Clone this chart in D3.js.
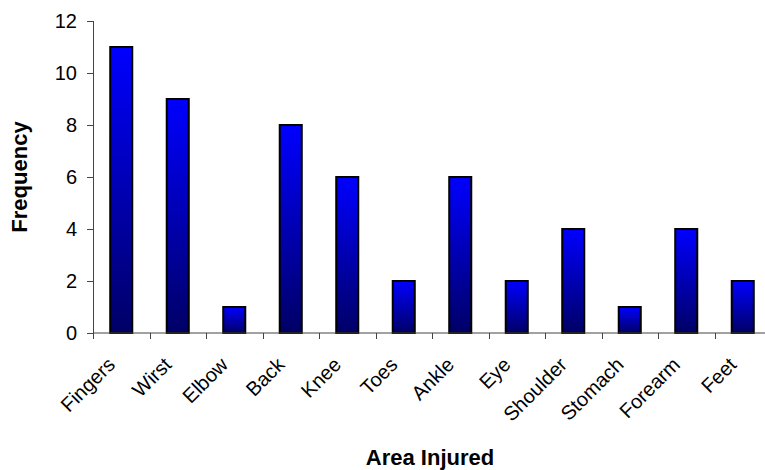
<!DOCTYPE html>
<html><head><meta charset="utf-8">
<script src="https://cdn.jsdelivr.net/npm/d3@7"></script>
<style>body{margin:0;background:#fff}svg{display:block}text{font-family:Arial,"Liberation Sans",sans-serif}</style>
</head><body>
<script>
const categories = ["Fingers","Wirst","Elbow","Back","Knee","Toes","Ankle","Eye","Shoulder","Stomach","Forearm","Feet"];
const values = [11,9,1,8,6,2,6,2,4,1,4,2];
const yTicks = [0,2,4,6,8,10,12];

const W=765,H=470;
const plot={left:93,right:771,top:21,bottom:333};
const svg=d3.select("body").append("svg").attr("width",W).attr("height",H);
const defs=svg.append("defs");
const grad=defs.append("linearGradient").attr("id","bg").attr("x1",0).attr("y1",0).attr("x2",0).attr("y2",1);
grad.append("stop").attr("offset","0%").attr("stop-color","#0000ff");
grad.append("stop").attr("offset","100%").attr("stop-color","#000066");

const x=d3.scaleBand().domain(categories).range([plot.left,plot.right]).paddingInner(0).paddingOuter(0);
const y=d3.scaleLinear().domain([0,12]).range([plot.bottom,plot.top]);

const bw=x.bandwidth()*0.39;
svg.selectAll("rect.bar").data(values).enter().append("rect")
 .attr("x",(d,i)=>x(categories[i])+x.bandwidth()/2-bw/2)
 .attr("y",d=>y(d)).attr("width",bw).attr("height",d=>y(0)-y(d))
 .attr("fill","url(#bg)").attr("stroke","#000").attr("stroke-width",2);

// y axis
const ya=svg.append("g").attr("transform",`translate(${plot.left},0)`)
 .call(d3.axisLeft(y).tickValues(yTicks).tickSize(6).tickPadding(10));
ya.select(".domain").attr("stroke","#444").attr("d",`M0.5,${y(12)}V${y(0)}`);
ya.selectAll(".tick line").attr("stroke","#444");
ya.selectAll("text").attr("font-size",20).attr("fill","#000").attr("font-family","Arial, Liberation Sans, sans-serif");

// x axis
const xa=svg.append("g").attr("transform",`translate(0,${y(0)})`);
xa.append("line").attr("x1",plot.left).attr("x2",W).attr("y1",0).attr("y2",0).attr("stroke","#444");
const bounds=d3.range(categories.length).map(i=>plot.left+i*x.bandwidth());
xa.selectAll("line.t").data(bounds).enter().append("line")
 .attr("x1",d=>Math.round(d)+0.5).attr("x2",d=>Math.round(d)+0.5).attr("y1",0).attr("y2",6).attr("stroke","#444");
xa.selectAll("text").data(categories).enter().append("text")
 .attr("transform",d=>`translate(${x(d)+x.bandwidth()/2-5},${33}) rotate(-45)`)
 .attr("text-anchor","end").attr("font-size",20).text(d=>d);

svg.append("text").attr("transform",`translate(27,177) rotate(-90)`)
 .attr("text-anchor","middle").attr("font-weight","bold").attr("font-size",22).text("Frequency");
svg.append("text").attr("x",430).attr("y",465).attr("text-anchor","middle")
 .attr("font-weight","bold").attr("font-size",22).text("Area Injured");
</script>
</body></html>
